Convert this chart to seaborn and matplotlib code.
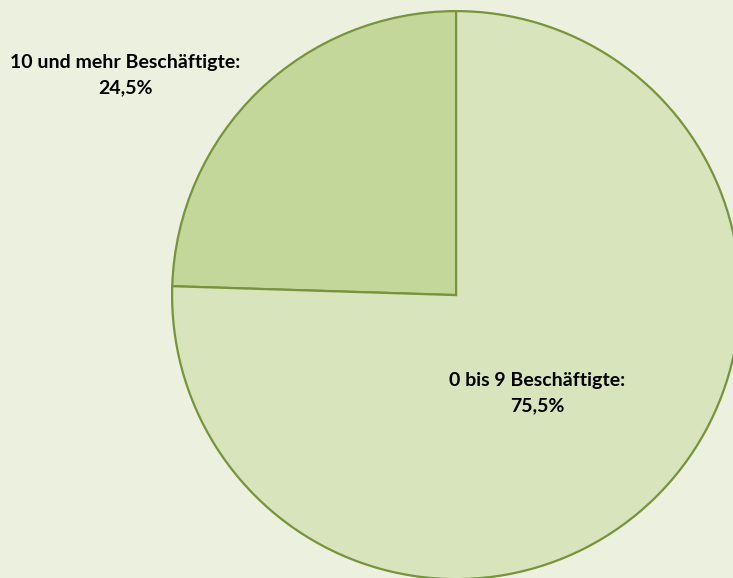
import matplotlib
matplotlib.use("Agg")
import matplotlib.pyplot as plt
import seaborn as sns

sns.set_theme(style="white")
plt.rcParams['font.family'] = ['Lato', 'DejaVu Sans']

categories = ['10 und mehr Beschäftigte', '0 bis 9 Beschäftigte']
shares = [24.5, 75.5]
labels = ['10 und mehr Beschäftigte:\n24,5%', '0 bis 9 Beschäftigte:\n75,5%']
colors = ['#C4D79B', '#D8E4BC']

bg = '#EBF1DE'
fig = plt.figure(figsize=(7.33, 5.78), dpi=100, facecolor=bg)
ax = fig.add_axes([0, 0, 1, 1])
ax.set_facecolor(bg)

ax.pie(shares, colors=colors, startangle=90, counterclock=True,
       wedgeprops=dict(edgecolor='#77933C', linewidth=1.6))

# label positions (pie radius = 1)
label_pos = [(-1.165, 0.775), (0.285, -0.345)]
for txt, (x, y) in zip(labels, label_pos):
    ax.text(x, y, txt, ha='center', va='center', fontsize=14,
            fontweight='bold', color='black', linespacing=1.6)

ax.set_xlim(-1.606, 0.975)
ax.set_ylim(-0.996, 1.039)
ax.set_aspect('equal')
ax.axis('off')

fig.savefig('out.png', dpi=100, facecolor=bg)
